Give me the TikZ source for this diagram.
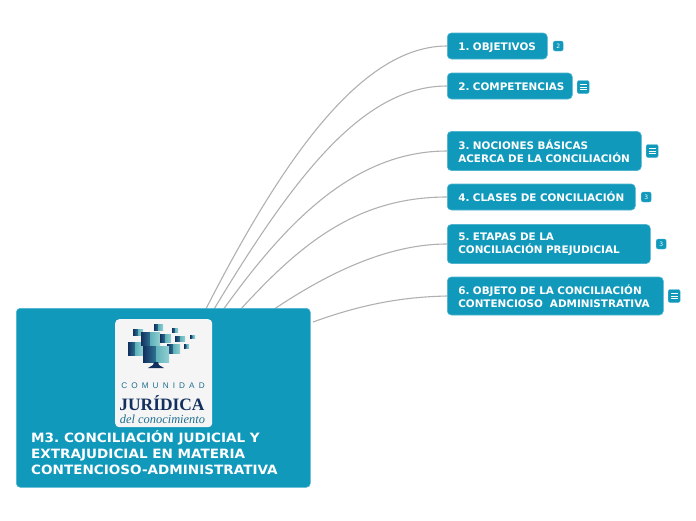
\documentclass[tikz,border=0pt]{standalone}
\usepackage{fontspec}
\usepackage{xcolor}
\newfontfamily\topicfont{DejaVu Sans}
\newfontfamily\rootfont[FakeStretch=1.06]{DejaVu Sans}
\newfontfamily\logosans{Liberation Sans}
\newfontfamily\logoserif{Liberation Serif}
\frenchspacing
\definecolor{mapblue}{HTML}{1199BC}
\definecolor{mapedge}{HTML}{4FB4D0}
\definecolor{mapline}{HTML}{B0B0B0}
\definecolor{booknavy}{HTML}{12305E}
\definecolor{bookmid}{HTML}{2F7393}
\definecolor{bookteal}{HTML}{5FB2BA}
\definecolor{booklight}{HTML}{92CFD2}
\definecolor{logoteal}{HTML}{1F6F8F}
\newcommand{\logobook}[4]{
  \shade[left color=booknavy,right color=bookmid] (#1,#2) rectangle ({(#1+#3)/2},#4);
  \shade[left color=bookteal,right color=booklight] ({(#1+#3)/2},#2) rectangle (#3,#4);
}
\newcommand{\menulines}[1]{
  \foreach \dy in {-2.5,0,2.5}
    \draw[white,line width=.7pt] ([xshift=-3.5pt,yshift=\dy pt]#1.center) -- ([xshift=3.5pt,yshift=\dy pt]#1.center);
}
\begin{document}
\begin{tikzpicture}[
  x=1pt,y=-1pt,
  topicbox/.style={draw=mapedge,fill=mapblue,rounded corners=4pt,anchor=west,align=left,
                   inner xsep=11pt,inner ysep=0pt,text=white,line width=.6pt,
                   font=\topicfont\bfseries\fontsize{10.4}{12.6}\selectfont},
  oneline/.style={minimum height=26pt,text height=10.2pt,text depth=1pt},
  badge/.style={draw=mapedge,fill=mapblue,rounded corners=2pt,inner sep=0pt,anchor=west,
                text=white,font=\topicfont\fontsize{6}{6}\selectfont,line width=.4pt},
  link/.style={draw=mapline,line width=1.1pt}
]
 \useasboundingbox (0,0) rectangle (696,520);
 \coordinate (hub) at (163,397);
 % topics
 \node[topicbox,oneline,text width=78pt] (obj) at (447,46) {1. OBJETIVOS};
 \node[topicbox,oneline,text width=103pt] (comp) at (447,86) {\mbox{2. COMPETENCIAS}};
 \node[topicbox,text width=172pt,minimum height=39pt] (noc) at (447,151)
       {3. NOCIONES BÁSICAS\\ACERCA DE LA CONCILIACIÓN};
 \node[topicbox,oneline,text width=166pt] (cla) at (447,197) {4. CLASES DE CONCILIACIÓN};
 \node[topicbox,text width=181pt,minimum height=39pt] (eta) at (447,244)
       {5. ETAPAS DE LA\\CONCILIACIÓN PREJUDICIAL};
 \node[topicbox,text width=194pt,minimum height=38pt] (dem) at (447,296)
       {6. OBJETO DE LA CONCILIACIÓN\\CONTENCIOSO\ \ ADMINISTRATIVA};
 % connectors
 \draw[link] (hub) .. controls (260,190) and (350,46) .. (obj.west);
 \draw[link] (hub) .. controls (272,205) and (350,86) .. (comp.west);
 \draw[link] (hub) .. controls (240,285) and (320,151) .. (noc.west);
 \draw[link] (hub) .. controls (260,290) and (320,197) .. (cla.west);
 \draw[link] (hub) .. controls (248,322) and (350,244) .. (eta.west);
 \coordinate (six) at (313,322);
 \draw[link] (six) .. controls (360,305) and (400,297) .. (dem.west);
 % root
 \node[draw=mapedge,fill=mapblue,rounded corners=4pt,minimum width=294pt,minimum height=179pt,
       line width=.6pt,anchor=north west] (root) at (16,308) {};
 \node[anchor=north west,inner sep=0pt,align=left,text=white,
       font=\rootfont\bfseries\fontsize{12.8}{16}\selectfont] (roottext) at (31,430)
       {M3. CONCILIACIÓN JUDICIAL Y\\EXTRAJUDICIAL EN MATERIA\\CONTENCIOSO-ADMINISTRATIVA};
 % logo
 \node[fill=white!96!black,rounded corners=4pt,minimum width=97pt,minimum height=108pt,
       anchor=north west] (logo) at (115,319) {};
 \logobook{128}{342}{143}{355}
 \logobook{133}{329}{143}{335}
 \logobook{141}{332}{160}{345}
 \logobook{160}{334}{171}{342}
 \logobook{154}{324}{163}{330}
 \logobook{167}{344}{180}{353}
 \logobook{175}{336}{185}{341}
 \logobook{172}{328}{178}{332}
 \logobook{184}{344}{189}{348}
 \logobook{190}{335}{195}{338}
 \logobook{143}{346}{169}{362}
 \fill[booknavy] (154,362) -- (158,362) -- (159,365) -- (164,368) -- (148,368) -- (153,365) -- cycle;
 \node[inner sep=0pt,text=logoteal,font=\logosans\fontsize{8.2}{8}\selectfont] (logoa) at (163,386)
       {C\,\,\,O\,\,\,M\,\,\,U\,\,\,N\,\,\,I\,\,\,D\,\,\,A\,\,\,D};
 \node[inner sep=0pt,text=booknavy,font=\logoserif\bfseries\fontsize{17.4}{18}\selectfont] (logob) at (162,403) {JURÍDICA};
 \node[inner sep=0pt,text=logoteal,font=\logoserif\itshape\fontsize{12.4}{13}\selectfont] (logoc) at (162.5,419) {del conocimiento};
 % badges
 \node[badge,minimum width=10pt,minimum height=10pt] (bobj) at (553,46) {2};
 \node[badge,minimum width=12pt,minimum height=13pt] (bcomp) at (577,87) {};
 \node[badge,minimum width=12pt,minimum height=13pt] (bnoc) at (646,151) {};
 \node[badge,minimum width=10pt,minimum height=10pt] (bcla) at (641,197) {3};
 \node[badge,minimum width=10pt,minimum height=10pt] (beta) at (656,244) {3};
 \node[badge,minimum width=12pt,minimum height=13pt] (bdem) at (668,296) {};
 \menulines{bcomp}
 \menulines{bnoc}
 \menulines{bdem}
\end{tikzpicture}
\end{document}
